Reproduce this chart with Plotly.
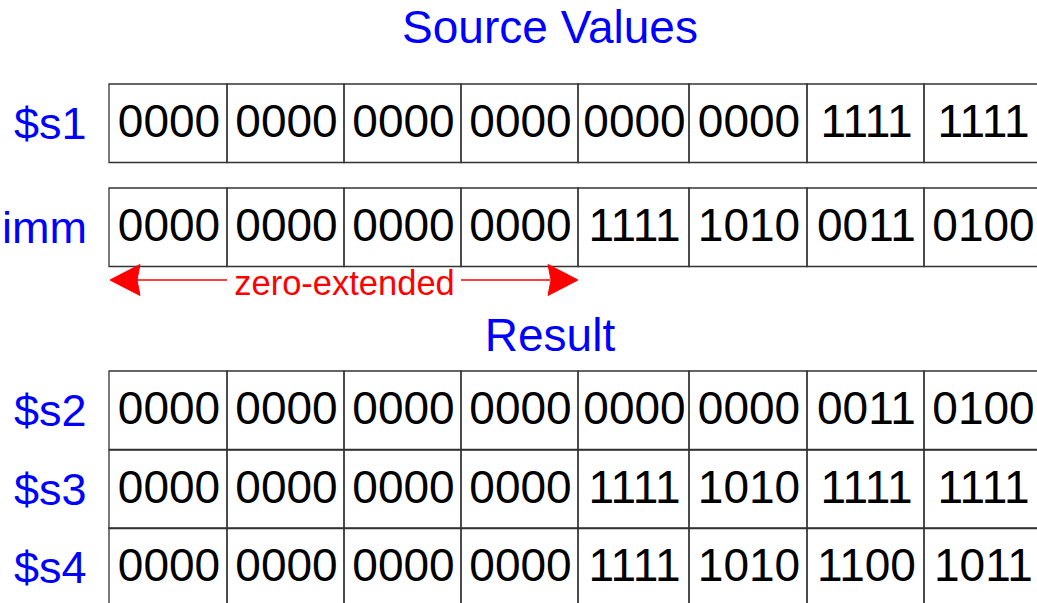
import plotly.graph_objects as go

# ---- data ----
row_labels = ["$s1", "imm", "$s2", "$s3", "$s4"]
s1_vals = ["0000", "0000", "0000", "0000", "0000", "0000", "1111", "1111"]
imm_vals = ["0000", "0000", "0000", "0000", "1111", "1010", "0011", "0100"]
s2_vals = ["0000", "0000", "0000", "0000", "0000", "0000", "0011", "0100"]
s3_vals = ["0000", "0000", "0000", "0000", "1111", "1010", "1111", "1111"]
s4_vals = ["0000", "0000", "0000", "0000", "1111", "1010", "1100", "1011"]
section_titles = ["Source Values", "Result"]
arrow_label = "zero-extended"
extended_cols = 4  # number of nibble columns covered by zero-extension

# ---- layout (pixel-like coordinates) ----
W, H = 1037, 603
col_edges = [109, 227, 344, 461, 578, 689, 807, 924, 1041]
row_tops = [84, 188, 371, 450, 528]
row_h = 78.5
title_y = [31.5, 339]
title_x = 550
arrow_y = 280
text_dy = 2.5
FONT = "Arial, Liberation Sans, sans-serif"
BLUE = "#0000FF"
RED = "#FF0000"
LINE = "#333333"

rows = [s1_vals, imm_vals, s2_vals, s3_vals, s4_vals]

fig = go.Figure()
shapes = []

for r, vals in enumerate(rows):
    top = row_tops[r]
    bot = top + row_h
    for c in range(len(vals)):
        shapes.append(dict(type="rect", xref="x", yref="y",
                           x0=col_edges[c], x1=col_edges[c + 1], y0=top, y1=bot,
                           line=dict(color=LINE, width=1.3), fillcolor="rgba(0,0,0,0)"))
    xs = [(col_edges[c] + col_edges[c + 1]) / 2 + 1 for c in range(len(vals))]
    ys = [top + row_h / 2 + text_dy] * len(vals)
    fig.add_trace(go.Scatter(x=xs, y=ys, mode="text", text=vals,
                             textposition="middle center",
                             textfont=dict(family=FONT, size=46, color="black"),
                             hoverinfo="skip", showlegend=False))

# row labels
annotations = []
for r, lab in enumerate(row_labels):
    annotations.append(dict(x=89, y=row_tops[r] + row_h / 2, xref="x", yref="y",
                            text=lab, showarrow=False, xanchor="right", yanchor="middle",
                            font=dict(family=FONT, size=45, color=BLUE)))

# section titles
fig.add_trace(go.Scatter(x=[title_x, title_x], y=title_y, mode="text", text=section_titles,
                         textposition="middle center",
                         textfont=dict(family=FONT, size=46, color=BLUE),
                         hoverinfo="skip", showlegend=False))

# zero-extended arrow
x_left = col_edges[0]
x_right = col_edges[extended_cols]
head_len = 30
head_half = 15.5
notch = 3
txt_l, txt_r = 227, 461
shapes.append(dict(type="line", xref="x", yref="y", x0=x_left + head_len - 2, x1=txt_l,
                   y0=arrow_y, y1=arrow_y, line=dict(color=RED, width=1.5)))
shapes.append(dict(type="line", xref="x", yref="y", x0=txt_r, x1=x_right - head_len + 2,
                   y0=arrow_y, y1=arrow_y, line=dict(color=RED, width=1.5)))
lp = (f"M {x_left + 1},{arrow_y} L {x_left + head_len + 1},{arrow_y - head_half} "
      f"L {x_left + head_len + 1 - notch},{arrow_y} L {x_left + head_len + 1},{arrow_y + head_half} Z")
rp = (f"M {x_right},{arrow_y} L {x_right - head_len},{arrow_y - head_half} "
      f"L {x_right - head_len + notch},{arrow_y} L {x_right - head_len},{arrow_y + head_half} Z")
for p in (lp, rp):
    shapes.append(dict(type="path", xref="x", yref="y", path=p,
                       fillcolor=RED, line=dict(color=RED, width=1)))
fig.add_trace(go.Scatter(x=[(txt_l + txt_r) / 2 + 0.5], y=[arrow_y + 6], mode="text",
                         text=[arrow_label], textposition="middle center",
                         textfont=dict(family=FONT, size=34.5, color=RED),
                         hoverinfo="skip", showlegend=False))

fig.update_layout(
    width=W, height=H,
    margin=dict(l=0, r=0, t=0, b=0),
    paper_bgcolor="white", plot_bgcolor="white",
    xaxis=dict(range=[0, W], visible=False, fixedrange=True),
    yaxis=dict(range=[H, 0], visible=False, fixedrange=True),
    shapes=shapes, annotations=annotations,
    showlegend=False,
)

fig.write_html("out.html", config={"displayModeBar": False},
               post_script="document.body.style.margin='0';")
